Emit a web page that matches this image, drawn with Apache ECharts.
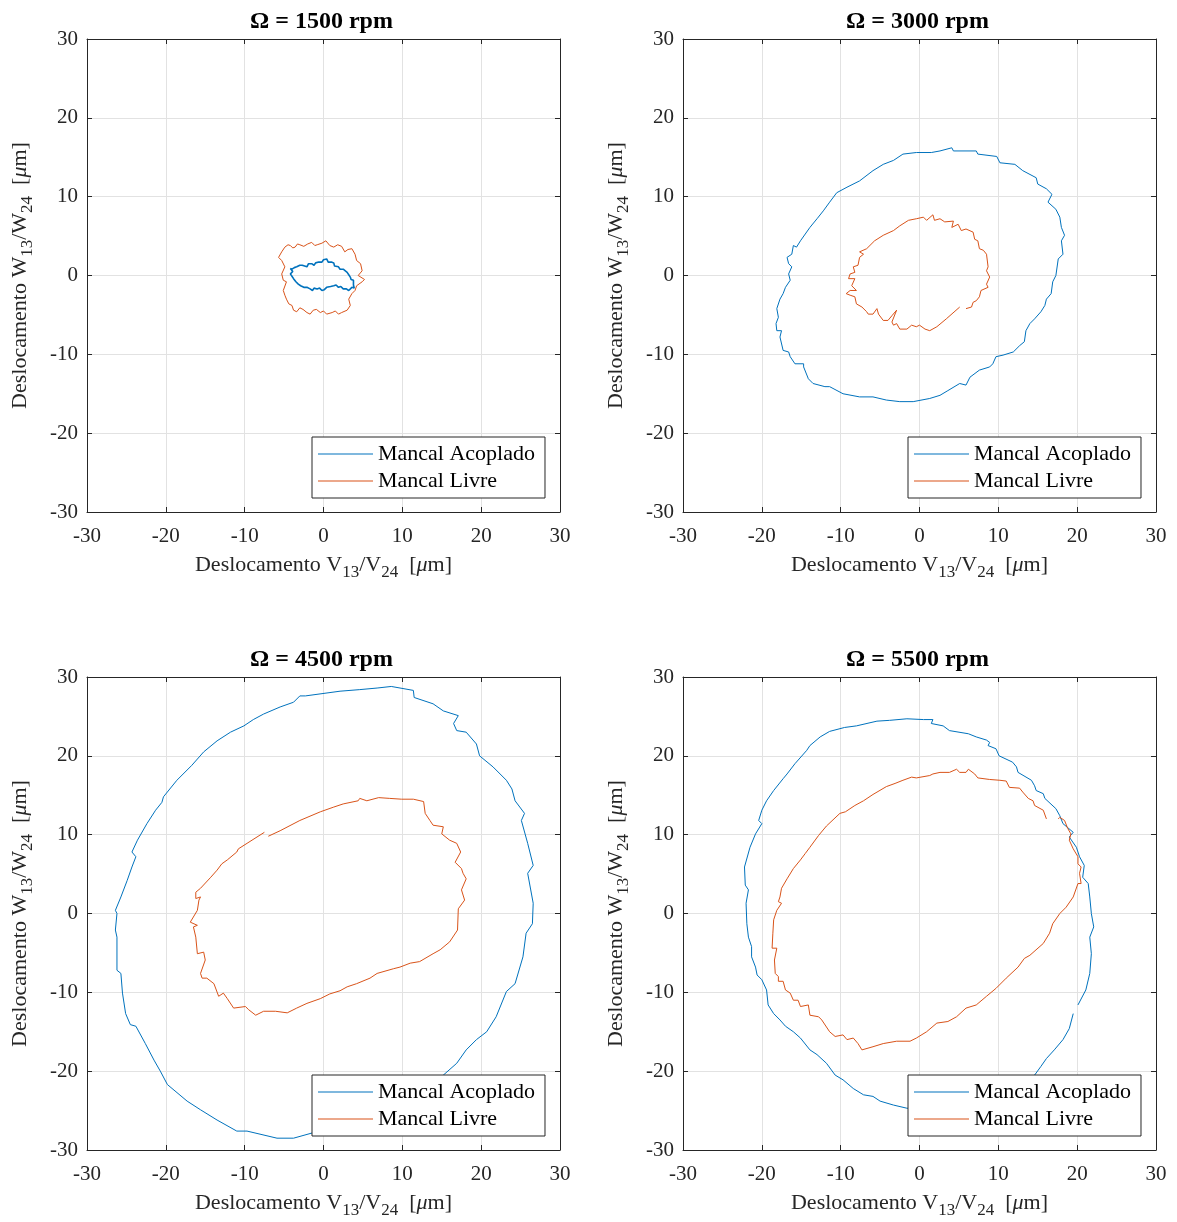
<!DOCTYPE html>
<html>
<head>
<meta charset="utf-8">
<script src="https://cdn.jsdelivr.net/npm/echarts@6/dist/echarts.min.js"></script>
<style>
  html, body { margin: 0; padding: 0; background: #fff; }
  #chart { width: 1177px; height: 1222px; }
</style>
</head>
<body>
<div id="chart"></div>
<script>
// Órbitas dos mancais (V x W) para quatro rotações
const titles = ['Ω = 1500 rpm', 'Ω = 3000 rpm', 'Ω = 4500 rpm', 'Ω = 5500 rpm']
const seriesNames = ['Mancal Acoplado', 'Mancal Livre']
const ticks = [-30, -20, -10, 0, 10, 20, 30]

// 1500 rpm
const acoplado1500 = [
  [-4.0, 0.8], [-3.8, 0.6], [-3.7, 1.0], [-3.4, 1.1], [-3.2, 0.9], [-3.0, 1.3], [-2.7, 1.3], [-2.4, 1.2], [-2.1, 1.1],
  [-1.9, 1.5], [-1.8, 1.4], [-1.5, 1.5], [-1.2, 1.3], [-1.0, 1.6], [-0.8, 1.4], [-0.6, 1.7], [-0.4, 1.9], [-0.2, 1.7],
  [0.0, 2.0], [0.2, 1.8], [0.4, 2.1], [0.6, 1.7], [0.8, 1.9], [1.0, 1.7], [1.3, 1.6], [1.4, 1.2], [1.6, 1.3],
  [1.9, 1.1], [2.1, 0.8], [2.3, 0.6], [2.5, 0.8], [2.7, 0.6], [3.0, 0.4], [3.2, 0.1], [3.4, -0.2], [3.5, -0.5],
  [3.8, -0.6], [4.0, -0.8], [3.8, -1.2], [3.9, -1.6], [3.6, -1.5], [3.2, -1.9], [2.9, -1.7], [2.5, -1.7],
  [2.2, -1.4], [1.9, -1.5], [1.6, -1.2], [1.3, -1.3], [0.9, -1.4], [0.4, -1.5], [0.1, -1.8], [-0.2, -1.9],
  [-0.5, -1.6], [-0.8, -1.7], [-1.2, -1.6], [-1.4, -1.9], [-1.7, -1.7], [-2.1, -1.5], [-2.5, -1.5], [-2.9, -1.3],
  [-3.2, -1.1], [-3.5, -0.8], [-3.8, -0.4], [-4.0, -0.1], [-4.2, 0.2], [-3.9, 0.5], [-4.2, 0.9], [-4.0, 0.8]
]
const livre1500 = [
  [-4.9, 3.6], [-4.5, 3.9], [-4.2, 3.8], [-3.9, 3.5], [-3.6, 3.6], [-3.3, 4.0], [-3.0, 3.9], [-2.5, 3.7], [-2.0, 4.0],
  [-1.5, 4.2], [-1.1, 3.8], [-0.8, 3.9], [-0.2, 4.1], [0.3, 4.4], [0.8, 3.8], [1.3, 3.6], [1.8, 3.9], [2.3, 3.7],
  [2.7, 3.0], [3.1, 3.3], [3.6, 3.4], [4.0, 2.7], [4.2, 1.9], [4.7, 1.5], [4.9, 0.6], [4.4, 0.0], [5.2, -0.5],
  [4.9, -0.8], [4.2, -1.3], [4.0, -1.9], [3.6, -2.3], [3.2, -3.0], [3.4, -3.8], [3.0, -4.4], [2.3, -4.7],
  [1.9, -4.9], [1.5, -4.5], [1.1, -4.7], [0.4, -4.9], [0.0, -4.5], [-0.4, -4.7], [-0.9, -4.3], [-1.3, -4.4],
  [-1.7, -4.9], [-2.1, -4.7], [-2.6, -4.3], [-3.0, -4.1], [-3.4, -4.6], [-3.8, -4.4], [-4.0, -3.8], [-4.4, -3.6],
  [-4.7, -3.0], [-4.9, -2.5], [-5.1, -1.9], [-5.3, -1.7], [-4.7, -0.8], [-5.1, -0.6], [-5.3, 0.2], [-4.9, 1.1],
  [-5.3, 1.9], [-5.7, 2.3], [-5.3, 3.0], [-4.9, 3.6]
]

// 3000 rpm
const acoplado3000 = [
  [4.1, 16.2], [4.3, 15.8], [7.2, 15.8], [7.4, 15.4], [9.8, 15.1], [10.2, 14.3], [12.1, 14.1], [13.1, 13.3],
  [14.8, 12.4], [15.0, 11.6], [16.1, 11.0], [16.8, 10.3], [16.3, 9.3], [17.3, 8.4], [17.8, 7.4], [18.0, 6.1],
  [18.4, 5.1], [18.0, 4.4], [18.2, 2.7], [17.6, 2.1], [17.3, 0.0], [16.9, -0.8], [16.7, -2.3], [16.1, -3.0],
  [15.9, -3.8], [15.4, -4.6], [14.6, -5.5], [14.0, -6.1], [13.5, -7.0], [13.3, -8.4], [12.7, -8.9], [11.9, -9.7],
  [10.6, -10.1], [9.7, -10.3], [9.3, -11.2], [8.9, -11.6], [7.6, -12.0], [6.4, -12.9], [5.9, -13.9], [5.1, -13.7],
  [3.6, -14.6], [2.6, -15.2], [1.3, -15.6], [-0.8, -16.0], [-2.5, -16.0], [-4.2, -15.8], [-5.9, -15.4],
  [-7.6, -15.4], [-9.7, -15.0], [-11.4, -14.1], [-12.0, -14.1], [-13.5, -13.7], [-14.1, -13.1], [-14.7, -11.6],
  [-14.7, -11.2], [-15.8, -11.2], [-16.4, -10.3], [-16.6, -9.7], [-17.3, -9.5], [-17.7, -7.8], [-17.5, -7.0],
  [-18.1, -7.0], [-18.2, -6.1], [-17.9, -5.3], [-18.1, -4.2], [-17.7, -3.0], [-17.3, -2.3], [-17.0, -1.5],
  [-16.4, -0.6], [-16.6, 0.2], [-16.2, 1.1], [-16.6, 1.5], [-16.8, 2.3], [-16.2, 2.7], [-16.0, 3.8], [-15.6, 3.6],
  [-15.1, 4.4], [-13.9, 6.1], [-13.0, 7.2], [-12.2, 8.2], [-11.4, 9.3], [-10.5, 10.5], [-9.2, 11.2], [-7.6, 12.0],
  [-5.9, 13.3], [-4.6, 14.1], [-3.3, 14.6], [-2.1, 15.4], [-0.4, 15.6], [1.5, 15.6], [1.7, 15.4], [2.6, 15.8],
  [4.1, 16.2]
]
const livre3000 = [
  [5.1, -4.0], [3.4, -5.5], [2.2, -6.5], [1.3, -7.0], [0.7, -6.8], [0.0, -6.3], [-0.4, -6.5], [-1.0, -6.3],
  [-1.6, -6.8], [-2.5, -6.8], [-2.9, -6.1], [-3.3, -6.3], [-3.5, -5.9], [-2.9, -4.4], [-3.5, -5.1], [-4.0, -5.7],
  [-4.6, -5.7], [-5.2, -4.9], [-5.4, -4.2], [-5.9, -4.9], [-6.5, -4.9], [-6.7, -4.6], [-7.3, -4.0], [-8.0, -3.6],
  [-8.2, -2.7], [-8.8, -2.5], [-9.3, -2.3], [-8.8, -1.9], [-8.0, -1.9], [-8.6, -1.3], [-8.2, -0.4], [-9.0, -0.4],
  [-8.8, 0.2], [-8.2, 0.4], [-8.4, 1.1], [-7.8, 1.3], [-7.6, 2.3], [-7.1, 2.7], [-7.6, 3.0], [-6.7, 3.4],
  [-5.7, 4.4], [-4.6, 5.1], [-3.3, 5.7], [-2.5, 6.3], [-1.4, 7.0], [-0.4, 7.2], [0.5, 7.4], [0.9, 7.0], [1.7, 7.7],
  [1.9, 7.0], [2.6, 7.2], [3.2, 6.8], [4.3, 6.9], [4.1, 6.1], [4.9, 6.5], [5.3, 5.7], [5.9, 5.9], [6.8, 5.5],
  [7.0, 4.6], [7.4, 4.4], [7.6, 3.4], [8.1, 3.2], [8.5, 2.7], [8.7, 1.1], [8.5, 0.6], [8.9, -0.2], [8.5, -1.1],
  [8.7, -1.5], [7.8, -1.9], [7.6, -2.7], [7.2, -3.2], [6.8, -3.4], [6.6, -4.0], [5.9, -4.2]
]

// 4500 rpm
const acoplado4500 = [
  [8.6, 28.8], [11.4, 28.3], [11.5, 27.4], [13.9, 26.6], [15.2, 25.7], [17.1, 25.1], [16.5, 24.1], [16.9, 23.2],
  [18.1, 23.0], [19.4, 21.5], [19.8, 20.0], [21.5, 18.6], [23.2, 16.9], [23.9, 15.8], [24.3, 14.3], [25.5, 12.7],
  [25.1, 11.8], [25.9, 8.9], [26.6, 6.1], [25.9, 5.1], [26.6, 1.3], [26.5, -1.3], [25.7, -2.5], [25.3, -5.5],
  [24.3, -8.9], [23.2, -9.9], [21.9, -13.1], [20.7, -15.0], [19.4, -16.0], [18.1, -17.3], [16.9, -19.0],
  [15.2, -20.5], [11.8, -23.6], [7.6, -26.2], [3.0, -27.6], [-1.3, -27.8], [-3.8, -28.5], [-5.9, -28.5],
  [-9.7, -27.6], [-11.0, -27.6], [-13.5, -26.2], [-15.6, -24.9], [-17.3, -23.8], [-19.8, -21.7], [-20.7, -20.0],
  [-21.5, -18.6], [-22.6, -16.5], [-23.8, -14.3], [-24.5, -14.1], [-25.1, -12.7], [-25.5, -10.1], [-25.7, -7.6],
  [-26.2, -7.2], [-26.2, -3.0], [-26.4, -2.1], [-26.2, 0.0], [-26.4, 0.4], [-25.7, 2.1], [-24.9, 4.2],
  [-24.3, 5.9], [-23.8, 7.2], [-24.3, 7.8], [-23.6, 9.3], [-22.4, 11.4], [-21.3, 13.1], [-20.5, 14.1],
  [-20.3, 14.8], [-18.6, 16.9], [-16.7, 18.8], [-15.2, 20.5], [-13.5, 21.9], [-11.8, 23.0], [-10.1, 23.8],
  [-8.9, 24.6], [-7.6, 25.3], [-5.5, 26.2], [-3.8, 26.8], [-3.0, 27.6], [-2.3, 27.6], [2.1, 28.2], [4.6, 28.4],
  [6.8, 28.6], [8.6, 28.8]
]
const livre4500 = [
  [-7.0, 9.8], [-5.5, 10.5], [-3.0, 11.8], [-0.4, 12.9], [1.3, 13.5], [2.5, 13.9], [4.4, 14.3], [4.6, 14.6],
  [5.5, 14.3], [7.0, 14.7], [8.4, 14.6], [8.6, 14.8], [9.9, 14.5], [11.4, 14.5], [12.7, 14.2], [12.9, 12.7],
  [13.5, 11.8], [13.9, 11.2], [15.2, 11.0], [15.0, 10.1], [16.0, 9.3], [16.9, 8.9], [17.4, 7.8], [16.7, 6.5],
  [17.5, 5.7], [17.7, 5.1], [18.1, 4.4], [17.5, 3.0], [17.9, 1.7], [17.1, 0.6], [17.0, -2.1], [16.0, -3.6],
  [14.8, -4.6], [13.9, -5.1], [12.2, -6.1], [11.0, -6.3], [9.7, -6.8], [8.9, -7.0], [6.8, -7.6], [5.9, -8.2],
  [4.2, -8.9], [3.0, -9.3], [2.1, -9.8], [0.8, -10.2], [-0.4, -10.8], [-2.1, -11.4], [-3.4, -12.0], [-4.6, -12.6],
  [-6.1, -12.4], [-7.6, -12.4], [-8.6, -12.9], [-9.5, -12.2], [-9.9, -11.8], [-11.4, -12.0], [-12.2, -10.8],
  [-12.7, -10.1], [-13.3, -10.5], [-13.9, -8.9], [-14.8, -8.2], [-15.4, -8.2], [-15.6, -7.6], [-15.0, -5.9],
  [-15.2, -4.9], [-16.0, -5.1], [-16.2, -3.0], [-16.5, -1.7], [-16.0, -1.5], [-16.9, -1.1], [-16.0, 0.4],
  [-15.8, 1.7], [-15.6, 2.1], [-16.2, 1.9], [-16.2, 2.7], [-15.6, 3.2], [-14.3, 4.6], [-13.5, 5.5], [-12.9, 6.3],
  [-12.2, 6.8], [-11.0, 7.8], [-10.8, 8.2], [-9.7, 8.9], [-7.5, 10.3]
]

// 5500 rpm
const acoplado5500 = [
  [19.5, -12.7], [19.0, -14.6], [18.2, -16.0], [17.1, -17.3], [16.1, -18.4], [15.4, -19.4], [14.6, -20.5],
  [11.9, -22.8], [7.6, -24.3], [3.0, -25.0], [-1.6, -24.7], [-3.3, -24.3], [-5.0, -23.8], [-5.9, -23.2],
  [-7.1, -23.0], [-8.4, -22.2], [-9.7, -21.1], [-10.7, -20.5], [-11.8, -19.0], [-13.0, -17.9], [-13.9, -17.3],
  [-15.1, -15.8], [-16.0, -15.0], [-17.0, -14.3], [-17.7, -13.5], [-18.5, -12.7], [-19.2, -11.6], [-19.4, -9.7],
  [-20.0, -8.4], [-20.6, -7.8], [-20.8, -6.8], [-21.3, -5.5], [-21.3, -4.2], [-21.7, -3.0], [-21.9, -1.3],
  [-22.0, 1.3], [-21.7, 3.0], [-22.1, 3.6], [-22.2, 5.9], [-21.5, 8.4], [-20.8, 10.1], [-20.0, 11.4],
  [-20.4, 11.8], [-20.0, 13.1], [-19.4, 14.3], [-18.5, 15.6], [-17.3, 17.1], [-16.8, 17.7], [-15.8, 19.0],
  [-14.3, 20.7], [-13.9, 21.3], [-12.6, 22.4], [-11.4, 23.1], [-9.5, 23.6], [-8.0, 23.8], [-5.4, 24.4],
  [-3.8, 24.5], [-1.6, 24.7], [0.5, 24.6], [1.7, 24.6], [1.5, 24.1], [3.0, 23.8], [3.8, 23.2], [6.2, 22.8],
  [7.2, 22.4], [8.5, 22.0], [8.9, 21.7], [8.7, 21.3], [9.7, 20.9], [10.1, 20.0], [11.8, 19.2], [12.3, 18.6],
  [12.5, 17.9], [14.2, 16.9], [14.6, 16.2], [14.8, 15.6], [15.7, 15.2], [15.9, 14.6], [17.3, 13.3], [17.8, 12.4],
  [18.2, 11.4], [19.5, 10.3], [19.0, 9.7], [19.9, 8.4], [20.3, 7.2], [20.9, 6.1], [20.7, 4.6], [21.4, 3.8],
  [21.6, 2.1], [21.8, 0.0], [22.1, -1.7], [21.6, -3.0], [21.8, -5.1], [21.6, -7.6], [21.1, -9.7], [20.1, -11.6]
]
const livre5500 = [
  [16.1, 12.0], [15.7, 13.1], [14.6, 13.7], [14.4, 14.3], [13.8, 14.6], [13.1, 15.4], [12.7, 15.9], [11.4, 16.0],
  [11.0, 16.8], [10.2, 16.9], [8.9, 17.0], [8.7, 17.2], [7.4, 17.2], [7.0, 17.7], [6.2, 18.3], [5.9, 17.9],
  [5.1, 17.9], [4.7, 18.3], [3.8, 17.9], [2.6, 17.9], [1.7, 17.7], [1.3, 17.5], [-0.4, 17.2], [-1.0, 17.3],
  [-2.1, 16.9], [-3.1, 16.5], [-4.2, 16.1], [-5.9, 15.1], [-7.1, 14.3], [-8.2, 13.7], [-9.4, 12.9], [-10.1, 12.7],
  [-11.8, 11.1], [-12.8, 9.9], [-13.9, 8.4], [-14.5, 7.6], [-15.1, 6.8], [-16.0, 5.7], [-16.8, 4.4], [-17.5, 3.2],
  [-17.7, 2.1], [-17.9, 1.5], [-17.5, 1.3], [-18.1, 0.4], [-18.5, -0.8], [-18.6, -2.5], [-18.7, -4.4],
  [-18.1, -4.4], [-18.4, -5.9], [-18.3, -7.6], [-17.9, -8.0], [-17.9, -8.6], [-17.3, -8.6], [-17.0, -9.7],
  [-16.4, -10.1], [-16.0, -11.0], [-15.4, -11.0], [-15.1, -11.8], [-14.1, -11.6], [-13.9, -12.9], [-12.8, -13.1],
  [-12.4, -13.5], [-11.4, -15.0], [-10.7, -15.6], [-9.7, -15.4], [-9.2, -16.0], [-8.4, -15.8], [-7.8, -16.5],
  [-7.3, -17.3], [-5.9, -16.9], [-4.6, -16.5], [-2.9, -16.2], [-1.2, -16.2], [-0.4, -15.8], [0.9, -15.0],
  [2.2, -13.9], [3.6, -13.7], [4.7, -13.1], [5.9, -12.0], [7.2, -11.6], [8.5, -10.5], [9.7, -9.5], [11.0, -8.2],
  [12.5, -6.8], [13.3, -5.7], [14.0, -5.3], [15.7, -3.8], [16.5, -2.5], [16.9, -1.3], [17.8, 0.0], [18.6, 0.8],
  [19.5, 2.1], [20.1, 3.8], [20.5, 3.8], [20.3, 5.1], [20.5, 5.9], [20.1, 6.3], [20.1, 7.2], [19.5, 8.2],
  [19.0, 9.3], [19.2, 10.1], [18.8, 10.8], [18.4, 11.8], [17.8, 12.2], [17.6, 12.0]
]

const acoplado = [acoplado1500, acoplado3000, acoplado4500, acoplado5500]
const livre = [livre1500, livre3000, livre4500, livre5500]

const FONT = 'Liberation Serif'
const INK = '#262626'
const COLORS = ['#0072BD', '#D95319']
const panels = [
  { left: 87, top: 39 },
  { left: 683, top: 39 },
  { left: 87, top: 677 },
  { left: 683, top: 677 }
]
const SIZE = 473

const nameRich = {
  s: { fontFamily: FONT, fontSize: 17, color: INK, padding: [14, 0, 0, 0] },
  m: { fontFamily: FONT, fontSize: 22, color: INK, fontStyle: 'italic' }
}

const grid = panels.map(p => ({ left: p.left, top: p.top, width: SIZE, height: SIZE, show: false }))

const baseAxis = {
  type: 'value',
  min: ticks[0],
  max: ticks[ticks.length - 1],
  interval: 10,
  axisLine: { show: true, onZero: false, lineStyle: { color: INK, width: 1 } },
  axisTick: { show: true, inside: true, length: 5, lineStyle: { color: INK } }
}

const xAxis = []
const yAxis = []
panels.forEach((p, i) => {
  xAxis.push({
    ...baseAxis,
    gridIndex: i,
    position: 'bottom',
    axisLabel: { color: INK, fontFamily: FONT, fontSize: 21, margin: 14 },
    splitLine: { show: true, lineStyle: { color: '#e2e2e2', width: 1 } },
    name: 'Deslocamento V{s|13}/V{s|24}  [{m|μ}m]',
    nameLocation: 'middle',
    nameGap: 38,
    nameTextStyle: { fontFamily: FONT, fontSize: 22, color: INK, rich: nameRich }
  })
  xAxis.push({ ...baseAxis, gridIndex: i, position: 'top', axisLabel: { show: false }, splitLine: { show: false } })
  yAxis.push({
    ...baseAxis,
    gridIndex: i,
    position: 'left',
    axisLabel: { color: INK, fontFamily: FONT, fontSize: 21, margin: 9 },
    splitLine: { show: true, lineStyle: { color: '#e2e2e2', width: 1 } },
    name: 'Deslocamento W{s|13}/W{s|24}  [{m|μ}m]',
    nameLocation: 'middle',
    nameGap: 51,
    nameTextStyle: { fontFamily: FONT, fontSize: 22, color: INK, rich: nameRich }
  })
  yAxis.push({ ...baseAxis, gridIndex: i, position: 'right', axisLabel: { show: false }, splitLine: { show: false } })
})

const series = []
panels.forEach((p, i) => {
  ;[acoplado[i], livre[i]].forEach((data, k) => {
    series.push({
      name: seriesNames[k],
      type: 'line',
      xAxisIndex: i * 2,
      yAxisIndex: i * 2,
      data: data,
      showSymbol: false,
      symbol: 'none',
      smooth: false,
      animation: false,
      lineStyle: { color: COLORS[k], width: i === 0 && k === 0 ? 1.6 : 1 },
      itemStyle: { color: COLORS[k] }
    })
  })
})

const title = panels.map((p, i) => ({
  text: titles[i],
  left: p.left + SIZE / 2 - 7,
  top: p.top - 34,
  textAlign: 'center',
  textStyle: { fontFamily: FONT, fontSize: 24, fontWeight: 'bold', color: '#000' }
}))

const legend = panels.map(p => ({
  data: seriesNames,
  orient: 'vertical',
  left: p.left + 225,
  top: p.top + 398,
  icon: 'rect',
  itemWidth: 55,
  itemHeight: 1.2,
  itemGap: 5,
  padding: [6, 10, 6, 6],
  backgroundColor: '#fff',
  borderColor: INK,
  borderWidth: 1,
  borderRadius: 0,
  selectedMode: false,
  textStyle: { fontFamily: FONT, fontSize: 22, color: '#000' }
}))

const chart = echarts.init(document.getElementById('chart'))
chart.setOption({
  backgroundColor: '#fff',
  animation: false,
  title,
  legend,
  grid,
  xAxis,
  yAxis,
  series
})
</script>
</body>
</html>
